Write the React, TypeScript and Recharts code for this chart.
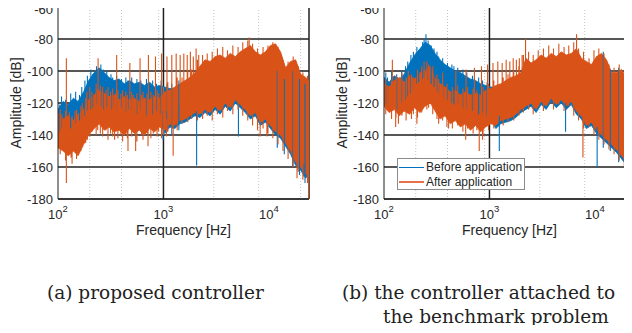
import { ComposedChart, Area, Line, XAxis, YAxis, CartesianGrid } from 'recharts'

// frequency grid shared by the band envelopes [Hz]
const FREQ = [
  100, 112, 125, 140, 155, 175, 195, 220, 245, 275,
  305, 340, 380, 425, 475, 530, 590, 660, 740, 825,
  920, 1030, 1150, 1280, 1430, 1600, 1780, 1990, 2220, 2480,
  2770, 3090, 3450, 3850, 4300, 4800, 5350, 5970, 6670, 7440,
  8300, 9270, 10350, 11550, 12890, 14390, 16060, 17930, 20010, 22340,
  24000,
]

// (a) proposed controller - upper / lower envelope [dB]
const A_BEFORE_HI = [
  -124, -119, -121, -117, -119, -113, -106, -101, -98, -101,
  -104, -106, -105, -108, -106, -108, -107, -109, -107, -110,
  -109, -110, -111, -111, -109, -107, -105, -102, -98, -94,
  -95, -92, -91, -93, -90, -92, -89, -87, -85, -89,
  -91, -89, -85, -84, -89, -99, -95, -94, -103, -105,
  -107,
]
const A_BEFORE_LO = [
  -135, -133, -130, -132, -128, -126, -122, -120, -118, -121,
  -118, -122, -120, -123, -121, -124, -122, -125, -121, -124,
  -122, -139, -135, -136, -133, -132, -130, -128, -129, -126,
  -128, -124, -127, -122, -125, -120, -123, -126, -130, -128,
  -134, -132, -136, -140, -142, -147, -152, -159, -162, -167,
  -164,
]
const A_AFTER_HI = [
  -126, -130, -128, -131, -127, -124, -118, -115, -112, -114,
  -116, -115, -118, -116, -118, -117, -119, -117, -118, -116,
  -117, -113, -112, -110, -108, -106, -104, -101, -97, -93,
  -94, -91, -90, -92, -89, -91, -88, -86, -84, -88,
  -90, -88, -84, -83, -88, -98, -94, -93, -102, -104,
  -106,
]
const A_AFTER_LO = [
  -148, -150, -153, -150, -153, -146, -140, -136, -133, -137,
  -135, -138, -137, -140, -136, -139, -137, -140, -136, -138,
  -135, -137, -133, -134, -131, -130, -128, -126, -127, -124,
  -126, -122, -125, -120, -123, -118, -121, -124, -128, -126,
  -132, -130, -134, -138, -140, -145, -150, -157, -160, -165,
  -162,
]

// (a) isolated spikes and dips: frequency, start, end [dB]
const A_BEFORE_EXC_F = [993, 2063, 5140, 21380]
const A_BEFORE_EXC_FROM = [-125, -125, -122, -158]
const A_BEFORE_EXC_TO = [-143, -159, -141, -166]
const A_AFTER_EXC_F = [
  120, 240, 360, 480, 600, 720, 840, 960, 1080, 1200, 1320, 1440, 1560, 1680, 1800, 1920, 2040, 2160, 6500,
  115, 133, 190, 344, 461, 545, 714, 1068, 1236, 8260, 9570, 18480, 23800,
]
const A_AFTER_EXC_FROM = [
  -170, -125, -125, -128, -126, -127, -126, -126, -125, -124, -123, -122, -121, -120, -119, -118, -117, -116, -110,
  -135, -140, -130, -130, -130, -130, -130, -130, -130, -125, -125, -150, -160,
]
const A_AFTER_EXC_TO = [
  -92, -92, -90, -95, -92, -90, -91, -89, -91, -90, -89, -90, -89, -90, -88, -91, -86, -90, -79,
  -149, -154, -143, -143, -150, -150, -147, -141, -153, -141, -141, -167, -180,
]

// (a) ragged edges of the noise: frequency, low, high [dB]
const A_BEFORE_FRINGE_F = [
  104, 108, 118, 132, 147, 160, 168, 180, 190, 205, 213, 232, 255, 268, 290, 318, 330, 360,
  400, 440, 460, 500, 560, 610, 690, 720, 790, 860, 950, 1080, 1200, 1400, 12000, 14000, 16800, 19500, 22000,
]
const A_BEFORE_FRINGE_LO = [
  -138, -136, -134, -136, -133, -131, -130, -128, -125, -124, -123, -121, -122, -124, -123, -124, -122, -125,
  -123, -126, -124, -125, -127, -124, -128, -125, -127, -125, -127, -138, -140, -137, -148, -152, -160, -165, -170,
]
const A_BEFORE_FRINGE_HI = [
  -121, -116, -118, -114, -113, -115, -110, -106, -103, -99, -102, -97, -96, -99, -100, -102, -104, -103,
  -105, -104, -106, -104, -105, -106, -105, -107, -106, -108, -106, -108, -108, -106, -100, -105, -100, -105, -108,
]
const A_AFTER_FRINGE_F = [
  105, 109, 118, 128, 136, 145, 150, 165, 170, 183, 188, 200, 210, 230, 238, 252, 265, 285, 298, 315,
  330, 350, 370, 395, 410, 440, 455, 500, 515, 560, 620, 640, 700, 760, 800, 870, 900, 960, 1000, 1100,
  1200, 1350, 1500, 1700, 1850, 2100, 2350, 2600, 2900, 3250, 3650, 4050, 4550, 5100, 5650, 6300, 7000, 7800,
  8800, 9800, 10900, 12200, 13600, 15200, 17000, 19000, 21000, 23200,
]
const A_AFTER_FRINGE_LO = [
  -152, -146, -156, -152, -158, -148, -155, -150, -147, -145, -139, -141, -138, -140, -137, -139, -141, -137, -143, -139,
  -141, -136, -142, -140, -144, -139, -142, -141, -138, -144, -140, -143, -139, -142, -139, -141, -138, -142, -140, -138,
  -136, -137, -133, -132, -130, -131, -130, -128, -131, -127, -129, -125, -127, -124, -128, -131, -134, -137,
  -136, -139, -142, -146, -150, -155, -160, -163, -168, -170,
]
const A_AFTER_FRINGE_HI = [
  -124, -127, -125, -126, -128, -125, -124, -122, -120, -117, -113, -110, -113, -108, -111, -109, -110, -112, -110, -113,
  -111, -114, -112, -114, -112, -113, -115, -113, -115, -114, -115, -113, -114, -113, -115, -112, -114, -111, -110, -107,
  -108, -104, -104, -100, -99, -93, -90, -89, -88, -86, -85, -87, -84, -85, -82, -81, -83, -86,
  -85, -84, -82, -85, -93, -94, -91, -97, -101, -103,
]

// (b) controller attached to the benchmark problem
const B_BEFORE_HI = [
  -104, -107, -103, -105, -102, -95, -90, -86, -82, -84,
  -89, -93, -96, -98, -100, -101, -103, -105, -106, -108,
  -109, -110, -110, -109, -107, -105, -104, -102, -93, -96,
  -94, -91, -93, -90, -92, -89, -91, -90, -87, -93,
  -95, -97, -92, -90, -94, -102, -102, -100, -106, -108,
  -109,
]
const B_BEFORE_LO = [
  -118, -120, -119, -121, -117, -112, -108, -104, -102, -104,
  -108, -111, -113, -116, -118, -117, -120, -122, -121, -124,
  -123, -130, -136, -133, -132, -131, -129, -126, -124, -122,
  -126, -121, -124, -119, -123, -120, -124, -121, -127, -130,
  -136, -134, -139, -142, -145, -148, -151, -155, -159, -162,
  -164,
]
const B_AFTER_HI = [
  -108, -110, -106, -104, -107, -103, -105, -101, -99, -97,
  -104, -108, -110, -113, -112, -115, -113, -115, -114, -115,
  -112, -111, -109, -108, -106, -104, -103, -101, -92, -95,
  -93, -90, -92, -89, -91, -88, -90, -89, -86, -92,
  -94, -96, -91, -89, -93, -101, -101, -99, -105, -107,
  -108,
]
const B_AFTER_LO = [
  -122, -126, -124, -128, -125, -127, -123, -126, -122, -120,
  -125, -130, -128, -133, -131, -135, -133, -137, -134, -138,
  -135, -133, -134, -131, -130, -129, -127, -124, -122, -120,
  -124, -119, -122, -117, -121, -118, -122, -119, -125, -128,
  -134, -132, -137, -140, -143, -146, -149, -153, -157, -160,
  -162,
]

const B_BEFORE_EXC_F = [250, 1240, 5270, 10500]
const B_BEFORE_EXC_FROM = [-100, -128, -120, -135]
const B_BEFORE_EXC_TO = [-77, -150, -138, -160]
const B_AFTER_EXC_F = [
  120, 240, 360, 480, 600, 720, 840, 960, 1080, 1200, 1320, 1440, 1560, 1680, 1800, 1920, 2040, 2200, 6700,
  129, 205, 410, 595, 800, 860, 7700, 21700,
]
const B_AFTER_EXC_FROM = [
  -125, -120, -128, -130, -132, -133, -133, -132, -131, -130, -129, -128, -127, -126, -125, -124, -123, -120, -120,
  -120, -122, -125, -130, -132, -132, -130, -150,
]
const B_AFTER_EXC_TO = [
  -93, -94, -101, -100, -99, -98, -97, -96, -95, -94, -95, -93, -94, -92, -93, -92, -90, -80, -77,
  -135, -133, -136, -143, -150, -143, -154, -160,
]

const B_BEFORE_FRINGE_F = [
  104, 108, 118, 132, 147, 160, 168, 180, 190, 205, 213, 232, 240, 262, 280, 298, 318, 330,
  360, 400, 440, 460, 500, 560, 610, 690, 720, 790, 860, 950, 12000, 14000, 16800, 19500, 22000,
]
const B_BEFORE_FRINGE_LO = [
  -121, -123, -122, -124, -120, -118, -116, -114, -111, -108, -107, -105, -104, -106, -108, -110, -113, -114,
  -116, -118, -120, -121, -120, -123, -124, -125, -124, -127, -126, -128, -148, -150, -157, -162, -166,
]
const B_BEFORE_FRINGE_HI = [
  -101, -104, -100, -102, -100, -97, -94, -90, -88, -85, -87, -82, -80, -81, -84, -86, -88, -91,
  -92, -95, -96, -97, -98, -99, -101, -103, -104, -104, -106, -107, -88, -99, -98, -104, -106,
]
const B_AFTER_FRINGE_F = [
  104, 108, 118, 130, 137, 148, 162, 170, 182, 190, 208, 228, 255, 265, 290, 318, 330, 360, 395, 445,
  500, 560, 620, 700, 760, 870, 980, 1100, 1350, 1500, 1700, 1900, 2100, 2350, 2600, 2900, 3250, 3650,
  4050, 4550, 5100, 5650, 6300, 7000, 7800, 8800, 9800, 10900, 12200, 13600, 15200, 17000, 19000, 21000, 23200,
]
const B_AFTER_FRINGE_LO = [
  -127, -124, -130, -129, -133, -128, -131, -126, -130, -127, -129, -126, -124, -123, -127, -130, -133, -131, -135, -136,
  -134, -138, -136, -139, -137, -140, -137, -136, -134, -132, -131, -128, -126, -124, -127, -122, -125, -120,
  -124, -121, -125, -122, -128, -131, -136, -135, -140, -143, -146, -149, -152, -156, -160, -163, -165,
]
const B_AFTER_FRINGE_HI = [
  -105, -109, -106, -103, -105, -101, -104, -100, -102, -104, -99, -97, -94, -96, -97, -102, -105, -106, -108, -110,
  -109, -111, -110, -111, -112, -110, -108, -106, -104, -102, -100, -97, -90, -88, -90, -87, -86, -84,
  -86, -83, -85, -84, -82, -86, -88, -92, -87, -86, -89, -96, -98, -96, -101, -104, -105,
]

const X_TICKS = [100, 1000, 10000]
const X_MINOR = [200, 300, 400, 500, 600, 700, 800, 900, 2000, 3000, 4000, 5000, 6000, 7000, 8000, 9000, 20000]
const Y_TICKS = [-180, -160, -140, -120, -100, -80, -60]

const BLUE = '#0072BD'
const ORANGE = '#D95319'
const FONT = '"Liberation Sans", Arial, sans-serif'

const band = (hi: number[], lo: number[]) => FREQ.map((f, i) => ({ f, v: [lo[i], hi[i]] }))

// vertical segments, broken apart with null points
const strokes = (freq: number[], from: number[], to: number[]) =>
  freq.flatMap((f, i) => [{ f, v: from[i] }, { f, v: to[i] }, { f, v: null }])

function PowTick({ x, y, payload }: any) {
  const exp = Math.round(Math.log10(payload.value))
  return (
    <text x={x} y={y + 20} textAnchor="middle" fontSize={13} fill="#262626" fontFamily={FONT}>
      10<tspan dy={-7} fontSize={9.5}>{exp}</tspan>
    </text>
  )
}

function DbTick({ x, y, payload }: any) {
  return (
    <text x={x} y={y + 4.7} textAnchor="end" fontSize={13} fill="#262626" fontFamily={FONT}>
      {payload.value}
    </text>
  )
}

function Spectrum({ before, after }: { before: any; after: any }) {
  return (
    <ComposedChart width={320} height={250} margin={{ top: 7, right: 11, bottom: 0, left: 0 }} style={{ overflow: 'visible' }}>
      <CartesianGrid horizontal={false} verticalValues={X_MINOR} stroke="#c4c4c4" strokeDasharray="1 2" />
      <CartesianGrid verticalValues={[1000, 10000, 24000]} stroke="#1f1f1f" strokeWidth={1.5} />
      <XAxis
        type="number"
        dataKey="f"
        scale="log"
        domain={[100, 24000]}
        allowDataOverflow
        ticks={X_TICKS}
        tick={<PowTick />}
        tickLine={false}
        tickSize={0}
        tickMargin={0}
        height={51}
        stroke="#1f1f1f"
        label={{
          content: () => (
            <text x={183.5} y={235} textAnchor="middle" fontSize={14} fill="#262626" fontFamily={FONT}>
              Frequency [Hz]
            </text>
          ),
        }}
      />
      <YAxis
        type="number"
        domain={[-180, -60]}
        allowDataOverflow
        ticks={Y_TICKS}
        tick={<DbTick />}
        tickLine={false}
        tickSize={0}
        tickMargin={5}
        width={58}
        stroke="#1f1f1f"
        label={{
          content: () => (
            <text
              x={16}
              y={103}
              transform="rotate(-90 16 103)"
              textAnchor="middle"
              dominantBaseline="central"
              fontSize={14}
              fill="#262626"
              fontFamily={FONT}
            >
              Amplitude [dB]
            </text>
          ),
        }}
      />
      <Area data={before.band} dataKey="v" type="linear" stroke={BLUE} strokeWidth={0.8} fill={BLUE} fillOpacity={1} dot={false} activeDot={false} isAnimationActive={false} />
      <Line data={before.exc} dataKey="v" type="linear" stroke={BLUE} strokeWidth={1.1} dot={false} activeDot={false} connectNulls={false} isAnimationActive={false} />
      <Area data={after.band} dataKey="v" type="linear" stroke={ORANGE} strokeWidth={0.8} fill={ORANGE} fillOpacity={1} dot={false} activeDot={false} isAnimationActive={false} />
      <Line data={after.exc} dataKey="v" type="linear" stroke={ORANGE} strokeWidth={1.1} dot={false} activeDot={false} connectNulls={false} isAnimationActive={false} />
    </ComposedChart>
  )
}

const captionStyle = {
  position: 'absolute' as const,
  fontFamily: '"DejaVu Serif", serif',
  fontSize: 18.5,
  lineHeight: '22px',
  color: '#222',
  whiteSpace: 'nowrap' as const,
}

export default function App() {
  const a = {
    before: {
      band: band(A_BEFORE_HI, A_BEFORE_LO),
      exc: [
        ...strokes(A_BEFORE_FRINGE_F, A_BEFORE_FRINGE_LO, A_BEFORE_FRINGE_HI),
        ...strokes(A_BEFORE_EXC_F, A_BEFORE_EXC_FROM, A_BEFORE_EXC_TO),
      ],
    },
    after: {
      band: band(A_AFTER_HI, A_AFTER_LO),
      exc: [
        ...strokes(A_AFTER_FRINGE_F, A_AFTER_FRINGE_LO, A_AFTER_FRINGE_HI),
        ...strokes(A_AFTER_EXC_F, A_AFTER_EXC_FROM, A_AFTER_EXC_TO),
      ],
    },
  }
  const b = {
    before: {
      band: band(B_BEFORE_HI, B_BEFORE_LO),
      exc: [
        ...strokes(B_BEFORE_FRINGE_F, B_BEFORE_FRINGE_LO, B_BEFORE_FRINGE_HI),
        ...strokes(B_BEFORE_EXC_F, B_BEFORE_EXC_FROM, B_BEFORE_EXC_TO),
      ],
    },
    after: {
      band: band(B_AFTER_HI, B_AFTER_LO),
      exc: [
        ...strokes(B_AFTER_FRINGE_F, B_AFTER_FRINGE_LO, B_AFTER_FRINGE_HI),
        ...strokes(B_AFTER_EXC_F, B_AFTER_EXC_FROM, B_AFTER_EXC_TO),
      ],
    },
  }

  return (
    <div style={{ position: 'relative', width: 632, height: 333, margin: -8, overflow: 'hidden', background: '#fff' }}>
      <div style={{ position: 'absolute', left: 0, top: 0 }}>
        <Spectrum before={a.before} after={a.after} />
      </div>
      <div style={{ position: 'absolute', left: 326, top: 0 }}>
        <Spectrum before={b.before} after={b.after} />
      </div>

      {/* legend of the right plot */}
      <div
        style={{
          position: 'absolute',
          left: 397,
          top: 158,
          width: 128,
          height: 32,
          boxSizing: 'border-box',
          border: '1px solid #8c8c8c',
          background: '#fff',
          fontFamily: FONT,
          fontSize: 12,
          color: '#262626',
          whiteSpace: 'nowrap',
          paddingTop: 1,
        }}
      >
        {[
          { name: 'Before application', color: BLUE, w: 1.5 },
          { name: 'After application', color: '#E8734A', w: 2 },
        ].map((item) => (
          <div key={item.name} style={{ display: 'flex', alignItems: 'center', height: 14.5 }}>
            <span style={{ display: 'inline-block', flex: 'none', width: 25, height: item.w, background: item.color, marginLeft: 1, marginRight: 2 }} />
            <span>{item.name}</span>
          </div>
        ))}
      </div>

      <div style={{ ...captionStyle, left: 47, top: 282 }}>(a) proposed controller</div>
      <div style={{ ...captionStyle, left: 342, top: 282 }}>(b) the controller attached to</div>
      <div style={{ ...captionStyle, left: 383, top: 306 }}>the benchmark problem</div>
    </div>
  )
}
